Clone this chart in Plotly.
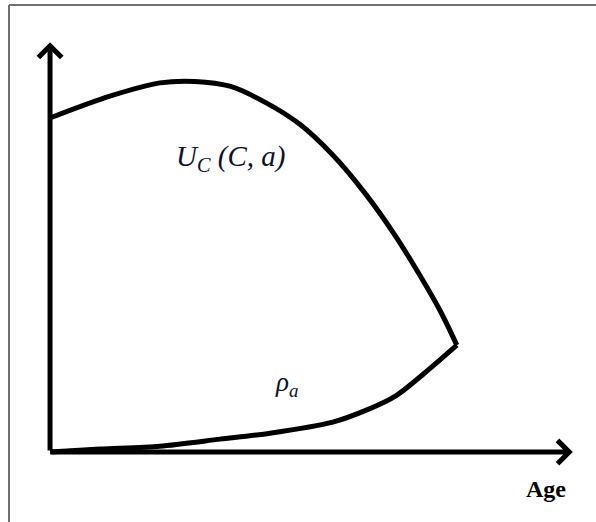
import plotly.graph_objects as go

# age axis runs 0..100 (turning point at 100), value axis 0..100 (peak of U_c)
age_uc = [0, 14.7, 27.0, 35.6, 44.2, 52.8, 61.4, 69.5, 77.4, 84.8, 90.9, 95.8, 100]
uc_vals = [90.3, 96.2, 99.8, 100.2, 98.9, 94.6, 88.6, 80.3, 70.0, 58.6, 47.8, 38.4, 28.9]

age_rho = [0, 12.3, 27.0, 41.8, 54.1, 69.5, 77.9, 85.0, 92.0, 100]
rho_vals = [0, 0.8, 1.6, 3.5, 5.1, 8.1, 11.4, 15.2, 21.3, 28.9]

x_axis_end = 128.5
y_axis_end = 110.8

W, H = 596, 522
x_rng = [-12.3, 134.2]
y_rng = [-18.9, 122.2]

txt_col = "#10102a"

fig = go.Figure()
fig.add_trace(go.Scatter(x=age_uc, y=uc_vals, mode="lines",
                         line={"color": "black", "width": 5, "shape": "spline", "smoothing": 0.9},
                         hoverinfo="skip"))
fig.add_trace(go.Scatter(x=age_rho, y=rho_vals, mode="lines",
                         line={"color": "black", "width": 5, "shape": "spline", "smoothing": 0.8},
                         hoverinfo="skip"))

# axes with arrow heads
for (tx, ty) in [(0, y_axis_end), (x_axis_end, 0)]:
    fig.add_annotation(x=tx, y=ty, ax=0, ay=0, xref="x", yref="y", axref="x", ayref="y",
                       text="", showarrow=True, arrowhead=4, arrowsize=0.9, arrowwidth=5,
                       arrowcolor="black", standoff=0, startstandoff=0)

fig.add_annotation(x=44.3, y=79.5, xref="x", yref="y", showarrow=False,
                   text="<i>U</i><sub><i>C</i></sub><i> (C, a)</i>",
                   font={"family": "Liberation Serif", "size": 29, "color": txt_col})
fig.add_annotation(x=58, y=18.3, xref="x", yref="y", showarrow=False,
                   text="<i>ρ</i><sub><i>a</i></sub>",
                   font={"family": "Liberation Serif", "size": 27, "color": txt_col})
fig.add_annotation(x=122.0, y=-10.0, xref="x", yref="y", showarrow=False,
                   text="<b>Age</b>",
                   font={"family": "Liberation Serif", "size": 24, "color": "black"})

# frame lines at top and left of the picture
fig.add_shape(type="line", xref="paper", yref="paper", x0=9 / W, x1=1, y0=1 - 5 / H, y1=1 - 5 / H,
              line={"color": "#707070", "width": 2})
fig.add_shape(type="line", xref="paper", yref="paper", x0=9 / W, x1=9 / W, y0=0, y1=1 - 5 / H,
              line={"color": "#707070", "width": 2})

fig.update_layout(width=W, height=H, margin={"l": 0, "r": 0, "t": 0, "b": 0},
                  paper_bgcolor="white", plot_bgcolor="white", showlegend=False,
                  xaxis={"range": x_rng, "visible": False, "fixedrange": True},
                  yaxis={"range": y_rng, "visible": False, "fixedrange": True})
fig.write_html("out.html", config={"displayModeBar": False},
               post_script="document.body.style.margin='0';document.body.style.overflow='hidden';")
